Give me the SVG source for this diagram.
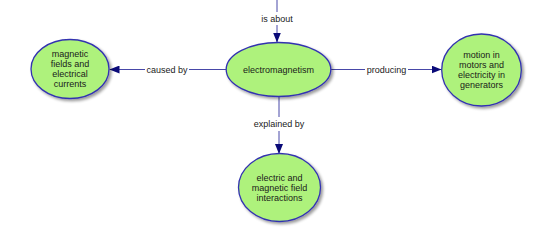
<svg xmlns="http://www.w3.org/2000/svg" width="547" height="229" viewBox="0 0 547 229">
<defs>
<marker id="arr" viewBox="0 0 10 8" refX="10" refY="4" markerWidth="10" markerHeight="8" markerUnits="userSpaceOnUse" orient="auto">
<path d="M0,0 L10,4 L0,8 z" fill="#0a0a78"/>
</marker>
<filter id="sh" x="-20%" y="-20%" width="150%" height="150%">
<feGaussianBlur in="SourceAlpha" stdDeviation="1.5"/>
<feOffset dx="2" dy="2" result="b"/>
<feComponentTransfer><feFuncA type="linear" slope="0.4"/></feComponentTransfer>
<feMerge><feMergeNode/><feMergeNode in="SourceGraphic"/></feMerge>
</filter>
</defs>
<style>
.node ellipse{fill:#aef27c;stroke:#3333b0;stroke-width:1.3;filter:url(#sh)}
.node text,.lbl{font-family:"Liberation Sans",Arial,sans-serif;font-size:9px;fill:#1a1a1a;text-anchor:middle}
.edge{stroke:#4848a8;stroke-width:1;fill:none}
</style>
<rect width="547" height="229" fill="#ffffff"/>
<g id="connectors">
<line class="edge" x1="277" y1="0" x2="277" y2="12"/>
<line class="edge" x1="277" y1="25" x2="277" y2="42.5" marker-end="url(#arr)"/>
<text class="lbl" x="277" y="21.5">is about</text>
<line class="edge" x1="226" y1="69.5" x2="189" y2="69.5"/>
<line class="edge" x1="145" y1="69.5" x2="109.5" y2="69.5" marker-end="url(#arr)"/>
<text class="lbl" x="167" y="72.5">caused by</text>
<line class="edge" x1="331" y1="69.5" x2="365" y2="69.5"/>
<line class="edge" x1="408" y1="69.5" x2="441.5" y2="69.5" marker-end="url(#arr)"/>
<text class="lbl" x="386.5" y="72.5">producing</text>
<line class="edge" x1="279" y1="96" x2="279" y2="117"/>
<line class="edge" x1="279" y1="131" x2="279" y2="154" marker-end="url(#arr)"/>
<text class="lbl" x="279" y="127">explained by</text>
</g>
<g id="n-electromagnetism" class="node">
<ellipse cx="278.5" cy="69.5" rx="52.3" ry="27"/>
<text x="278.5" y="72.5">electromagnetism</text>
</g>
<g id="n-magnetic-fields" class="node">
<ellipse cx="70" cy="69" rx="39" ry="29.5"/>
<text x="70" y="57">magnetic</text>
<text x="70" y="67">fields and</text>
<text x="70" y="77">electrical</text>
<text x="70" y="87">currents</text>
</g>
<g id="n-motion" class="node">
<ellipse cx="481.5" cy="70" rx="39.8" ry="36"/>
<text x="481.5" y="58">motion in</text>
<text x="481.5" y="68">motors and</text>
<text x="481.5" y="78">electricity in</text>
<text x="481.5" y="88">generators</text>
</g>
<g id="n-interactions" class="node">
<ellipse cx="279.5" cy="187.5" rx="41" ry="34"/>
<text x="279.5" y="181">electric and</text>
<text x="279.5" y="191">magnetic field</text>
<text x="279.5" y="201">interactions</text>
</g>
</svg>
